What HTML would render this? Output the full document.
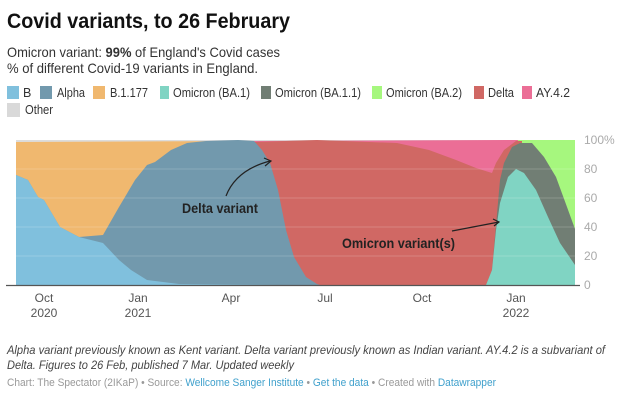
<!DOCTYPE html>
<html><head><meta charset="utf-8"><style>
html,body{margin:0;padding:0;background:#fff;}
svg{display:block;font-family:"Liberation Sans",sans-serif;}
</style></head><body>
<svg width="620" height="402" viewBox="0 0 620 402" xmlns="http://www.w3.org/2000/svg">
<text x="7" y="28" font-size="21" font-weight="bold" fill="#111" textLength="283" lengthAdjust="spacingAndGlyphs">Covid variants, to 26 February</text>
<text x="7" y="57" font-size="14" fill="#333" textLength="273" lengthAdjust="spacingAndGlyphs">Omicron variant: <tspan font-weight="bold">99%</tspan> of England's Covid cases</text>
<text x="7" y="73" font-size="14" fill="#333" textLength="251" lengthAdjust="spacingAndGlyphs">% of different Covid-19 variants in England.</text>
<g font-size="12.5" fill="#333">
<rect x="7" y="86" width="12" height="13" fill="#80c0dd"/><text x="23" y="97">B</text>
<rect x="40" y="86" width="12" height="13" fill="#7299ad"/><text x="57" y="97" textLength="28" lengthAdjust="spacingAndGlyphs">Alpha</text>
<rect x="93" y="86" width="12" height="13" fill="#f0b86f"/><text x="110" y="97" textLength="38" lengthAdjust="spacingAndGlyphs">B.1.177</text>
<rect x="160" y="86" width="9" height="13" fill="#80d4c3"/><text x="173" y="97" textLength="77" lengthAdjust="spacingAndGlyphs">Omicron (BA.1)</text>
<rect x="261" y="86" width="10" height="13" fill="#717e74"/><text x="275" y="97" textLength="86" lengthAdjust="spacingAndGlyphs">Omicron (BA.1.1)</text>
<rect x="372" y="86" width="10" height="13" fill="#a6f77e"/><text x="386" y="97" textLength="76" lengthAdjust="spacingAndGlyphs">Omicron (BA.2)</text>
<rect x="474" y="86" width="10" height="13" fill="#d06864"/><text x="488" y="97" textLength="26" lengthAdjust="spacingAndGlyphs">Delta</text>
<rect x="522" y="86" width="10" height="13" fill="#eb6e96"/><text x="536" y="97" textLength="34" lengthAdjust="spacingAndGlyphs">AY.4.2</text>
<rect x="7" y="103" width="13" height="14" fill="#d9d9d9"/><text x="25" y="114" textLength="28" lengthAdjust="spacingAndGlyphs">Other</text>
</g>
<!-- chart -->
<rect x="16" y="140" width="559" height="145" fill="#dcdcdc"/>
<polygon fill="#f0b86f" points="16,142 240,141 240,285 16,285"/>
<polygon fill="#eb6e96" points="250,141 520,140 520,285 250,285"/>
<polygon fill="#a6f77e" points="518,140 575,140 575,285 518,285"/>
<polygon fill="#d06864" points="254,142 317,140 397,143 429,150 456,160 476,168 492,173 496,163 504,150 516,141 522,141 522,285 254,285"/>
<polygon fill="#717e74" points="486,285 492,270 500,180 504,163 512,147 520,143 532,143 544,157 556,177 567,207 575,229 575,285"/>
<polygon fill="#80d4c3" points="486,285 492,270 496,230 500,203 508,177 516,169 524,173 536,190 548,217 560,243 575,265 575,285"/>
<polygon fill="#7299ad" points="16,175 28,180 38,197 44,200 60,227 79,237 103,235 119,207 135,180 147,165 155,162 171,150 187,143 206,141 238,140 254,141 262,150 270,163 278,190 286,230 294,257 306,277 317,284 320,285 16,285"/>
<polygon fill="#80c0dd" points="16,175 28,180 38,197 44,200 60,227 79,237 103,243 119,260 131,270 147,280 179,284 278,285 16,285"/>
<g stroke="#fff" stroke-opacity="0.18" stroke-width="1">
<line x1="16" y1="169" x2="575" y2="169"/><line x1="16" y1="198" x2="575" y2="198"/><line x1="16" y1="227" x2="575" y2="227"/><line x1="16" y1="256" x2="575" y2="256"/>
</g>
<line x1="6" y1="285.5" x2="580" y2="285.5" stroke="#555" stroke-width="1.2"/>
<g font-size="12" fill="#aaa">
<text x="584" y="144">100%</text><text x="584" y="173">80</text><text x="584" y="202">60</text><text x="584" y="231">40</text><text x="584" y="260">20</text><text x="584" y="289">0</text>
</g>
<g font-size="12" fill="#555" text-anchor="middle">
<text x="44" y="302">Oct</text><text x="44" y="317">2020</text>
<text x="138" y="302">Jan</text><text x="138" y="317">2021</text>
<text x="231" y="302">Apr</text>
<text x="325" y="302">Jul</text>
<text x="422" y="302">Oct</text>
<text x="516" y="302">Jan</text><text x="516" y="317">2022</text>
</g>
<path d="M226,196 Q236,170 270,161" fill="none" stroke="#222" stroke-width="1.2"/>
<path d="M264,158 L271,161 L265,166" fill="none" stroke="#222" stroke-width="1.2"/>
<text x="182" y="213" font-size="13.5" font-weight="bold" fill="#222" textLength="76" lengthAdjust="spacingAndGlyphs">Delta variant</text>
<path d="M452,231 L499,222" fill="none" stroke="#222" stroke-width="1.2"/>
<path d="M493,219 L499,222 L494,226" fill="none" stroke="#222" stroke-width="1.2"/>
<text x="342" y="248" font-size="13.5" font-weight="bold" fill="#222" textLength="113" lengthAdjust="spacingAndGlyphs">Omicron variant(s)</text>
<g font-size="12" font-style="italic" fill="#444">
<text x="7" y="354" textLength="598" lengthAdjust="spacingAndGlyphs">Alpha variant previously known as Kent variant. Delta variant previously known as Indian variant. AY.4.2 is a subvariant of</text>
<text x="7" y="369" textLength="287" lengthAdjust="spacingAndGlyphs">Delta. Figures to 26 Feb, published 7 Mar. Updated weekly</text>
</g>
<text x="7" y="386" font-size="11" fill="#999" textLength="489" lengthAdjust="spacingAndGlyphs">Chart: The Spectator (2IKaP) • Source: <tspan fill="#3fa0cc">Wellcome Sanger Institute</tspan> • <tspan fill="#3fa0cc">Get the data</tspan> • Created with <tspan fill="#3fa0cc">Datawrapper</tspan></text>
</svg>
</body></html>
